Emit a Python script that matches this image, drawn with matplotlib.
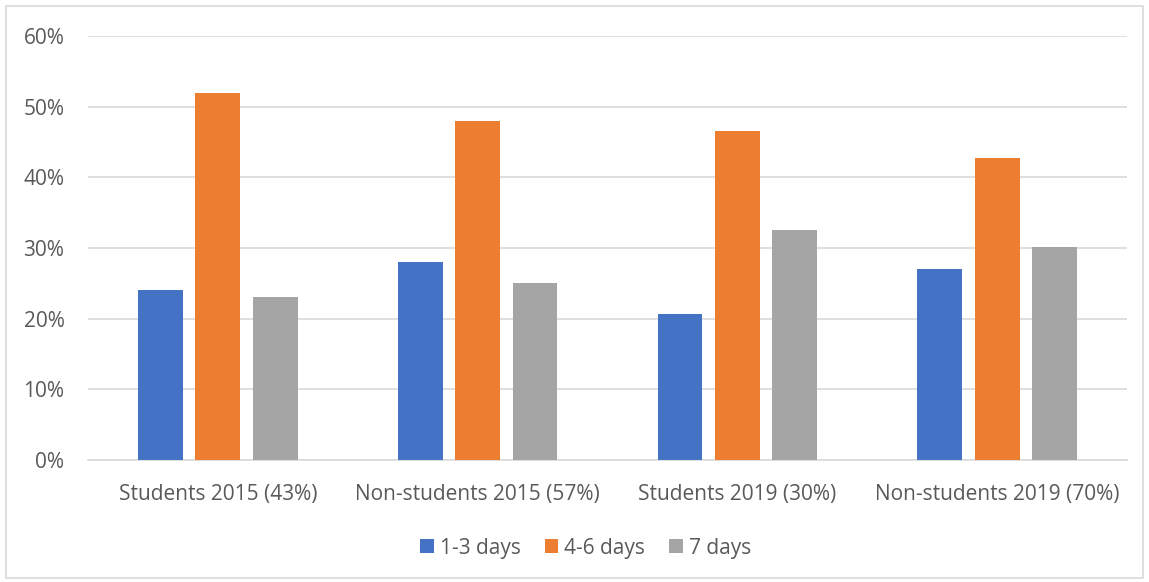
import matplotlib.pyplot as plt
import numpy as np
from matplotlib.patches import Rectangle

categories = ['Students 2015 (43%)', 'Non-students 2015 (57%)',
              'Students 2019 (30%)', 'Non-students 2019 (70%)']
series_names = ['1-3 days', '4-6 days', '7 days']
days_1_3 = [24.0, 28.0, 20.7, 27.0]
days_4_6 = [52.0, 48.0, 46.6, 42.7]
days_7 = [23.0, 25.0, 32.6, 30.2]
colors = ['#4472C4', '#ED7D31', '#A5A5A5']


def main():
    plt.rcParams['font.family'] = ['Open Sans', 'DejaVu Sans']
    fig = plt.figure(figsize=(11.49, 5.82), dpi=100)
    ax = fig.add_axes([88 / 1149, 122 / 582, 1039 / 1149, 424 / 582])

    x = np.arange(len(categories))
    width = 0.173
    offset = 0.221
    for i, (vals, name) in enumerate(zip([days_1_3, days_4_6, days_7], series_names)):
        ax.bar(x + (i - 1) * offset, vals, width, color=colors[i], label=name, zorder=3)

    ax.set_xlim(-0.5, len(categories) - 0.5)
    ax.set_ylim(0, 60)
    ax.set_yticks(range(0, 61, 10))
    ax.set_yticklabels([f'{v}%' for v in range(0, 61, 10)])
    ax.set_xticks(x)
    ax.set_xticklabels(categories)
    ax.grid(axis='y', color='#D9D9D9', linewidth=1.2, zorder=0)
    for s in ['top', 'right', 'left']:
        ax.spines[s].set_visible(False)
    ax.spines['bottom'].set_color('#D9D9D9')
    ax.spines['bottom'].set_linewidth(1.2)
    ax.tick_params(axis='both', length=0, labelsize=15, colors='#595959')
    ax.tick_params(axis='y', pad=17)
    ax.tick_params(axis='x', pad=17)

    ax.legend(loc='upper center', bbox_to_anchor=(0.479, -0.139), ncol=3, frameon=False,
              fontsize=15, labelcolor='#595959', handlelength=0.65, handleheight=0.65,
              handletextpad=0.3, columnspacing=1.15)

    fig.patches.append(Rectangle((6 / 1149, 4 / 582), 1137 / 1149, 572 / 582,
                                 transform=fig.transFigure, fill=False,
                                 edgecolor='#D9D9D9', linewidth=1.2))
    fig.savefig('out.png')


if __name__ == '__main__':
    main()
